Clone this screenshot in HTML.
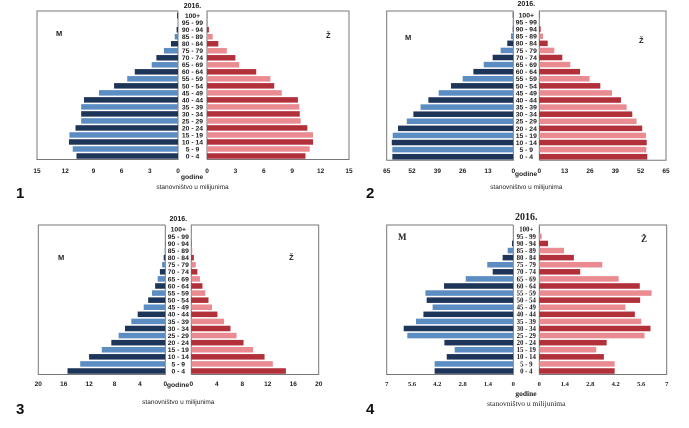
<!DOCTYPE html>
<html><head><meta charset="utf-8"><style>
html,body{margin:0;padding:0;background:#fff;width:689px;height:428px;overflow:hidden}
svg{display:block}
</style></head><body>
<svg id="svg" width="689" height="428" xmlns="http://www.w3.org/2000/svg" font-family="Liberation Sans, sans-serif"></svg>
<script>
const ageGroups = ["0 - 4","5 - 9","10 - 14","15 - 19","20 - 24","25 - 29","30 - 34","35 - 39","40 - 44","45 - 49","50 - 54","55 - 59","60 - 64","65 - 69","70 - 74","75 - 79","80 - 84","85 - 89","90 - 94","95 - 99","100+"];
const p1Male   = [10.8,11.2,11.6,11.55,10.9,10.3,10.3,10.3,10.0,8.4,6.8,5.4,4.6,2.8,2.3,1.5,0.75,0.35,0.15,0.05,0.1];
const p1Female = [10.4,10.85,11.2,11.2,10.6,9.9,9.8,9.75,9.6,7.9,7.1,6.7,5.2,3.4,3.0,2.1,1.2,0.6,0.2,0.1,0.05];
const p1Ticks  = ["0","3","6","9","12","15"];
const p2Male   = [62.1,62.1,62.4,61.9,59.2,54.7,51.3,47.6,43.6,38.3,32,26,20.5,15.2,10.6,6.5,3.1,1.2,0.3,0.2,0.3];
const p2Female = [55.4,54.9,55.1,54.7,52.8,49.9,47.7,44.8,41.9,37.3,31.3,25.8,20.9,15.9,11.8,7.7,4.3,1.9,0.7,0.2,0.2];
const p2Ticks  = ["0","13","26","39","52","65"];
const p3Male   = [15.4,13.4,12.0,10.0,8.5,7.35,6.35,5.35,4.35,3.4,2.7,2.1,1.6,1.2,0.85,0.5,0.25,0.1,0.05,0,0];
const p3Female = [14.85,12.8,11.5,9.7,8.2,7.1,6.15,5.15,4.1,3.25,2.7,2.2,1.75,1.35,0.95,0.7,0.4,0.15,0.05,0.02,0];
const p3Ticks  = ["0","4","8","12","16","20"];
const p4Male   = [4.35,4.35,3.68,3.24,3.81,5.86,6.06,5.38,4.97,4.46,4.79,4.86,3.83,2.63,1.14,1.44,0.59,0.31,0.07,0,0];
const p4Female = [4.14,4.14,3.55,3.13,3.7,5.78,6.11,5.6,5.25,4.73,5.54,6.17,5.52,4.36,2.25,3.46,1.9,1.36,0.48,0.13,0.02];
const p4Ticks  = ["0","1.4","2.8","4.2","5.6","7"];

const NS="http://www.w3.org/2000/svg";
const svg=document.getElementById('svg');
function mk(tag,attrs,parent){const e=document.createElementNS(NS,tag);for(const k in attrs)e.setAttribute(k,attrs[k]);(parent||svg).appendChild(e);return e;}

function drawPanel(id,male,female,ticks,L){
  const g=mk('g',{});
  
  
  const max=parseFloat(ticks[ticks.length-1]);
  const xl=v=>L.lz-(L.lz-L.l0)*v/max;
  const xr=v=>L.rz+(L.r1-L.rz)*v/max;
  const step=(L.y0-L.y20)/20;
  const yc=i=>L.y0-i*step;
  const bh=step*0.78;
  const bottom=L.y0+step/2;
  const ff=L.serif?'Liberation Serif, serif':'Liberation Sans, sans-serif';
  g.setAttribute('font-family',ff);
  const b1=mk('path',{d:`M${L.lz},${L.top}H${L.l0}V${bottom}H${L.lz}V${L.top}`,fill:'none',stroke:'#777','stroke-width':1},g);
  
  
  const b2=mk('path',{d:`M${L.rz},${bottom}V${L.top}H${L.r1}V${bottom}H${L.rz}`,fill:'none',stroke:'#777','stroke-width':1},g);
  
  
  for(let i=0;i<ageGroups.length;i++){
    const dark=i%2===0;
    const m=mk('rect',{x:xl(male[i]),y:yc(i)-bh/2,width:L.lz-xl(male[i]),height:bh,fill:dark?'#1d3559':'#5b8cc2'},g);
    
    
    const f=mk('rect',{x:L.rz,y:yc(i)-bh/2,width:xr(female[i])-L.rz,height:bh,fill:dark?'#b2303a':'#ea8b92'},g);
    
    
    const t=mk('text',{x:(L.lz+L.rz)/2,y:yc(i)+2.4,'text-anchor':'middle','font-size':6.8,'font-weight':'bold',fill:'#222'},g);
    t.textContent=ageGroups[i];
    
    
  }
  for(let k=0;k<ticks.length;k++){
    const v=parseFloat(ticks[k]);
    const a=mk('text',{x:xl(v),y:L.ty,'text-anchor':'middle','font-size':6.5,'font-weight':'bold',fill:'#222'},g);
    a.textContent=ticks[k];
    
    
    const b=mk('text',{x:xr(v),y:L.ty,'text-anchor':'middle','font-size':6.5,'font-weight':'bold',fill:'#222'},g);
    b.textContent=ticks[k];
    
    
  }
  const tt=mk('text',{x:(L.lz+L.rz)/2,y:L.titleY,'text-anchor':'middle','font-size':L.serif?10:7,'font-weight':'bold',fill:'#222'},g);
  tt.textContent='2016.';
  
  
  const gd=mk('text',{x:L.gx,y:L.gy,'text-anchor':'middle','font-size':L.serif?7.5:6.8,'font-weight':'bold',fill:'#222'},g);
  gd.textContent='godine';
  
  
  const st=mk('text',{x:(L.lz+L.rz)/2,y:L.sy,'text-anchor':'middle','font-size':L.serif?7.5:6.5,fill:'#222'},g);
  st.textContent='stanovništvo u milijunima';
  
  
  const mm=mk('text',{x:L.mx,y:L.my,'font-size':L.serif?9:7.5,'font-weight':'bold',fill:'#222'},g);
  mm.textContent='M';
  
  
  const zz=mk('text',{x:L.zx,y:L.zy,'font-size':L.serif?9:7.5,'font-weight':'bold',fill:'#222'},g);
  zz.textContent='Ž';
  
  
  const n=mk('text',{x:L.nx,y:L.ny,'font-size':15,'font-weight':'bold',fill:'#111','font-family':'Liberation Sans, sans-serif'},g);
  n.textContent=String(id);
  
  
}

drawPanel(1,p1Male,p1Female,p1Ticks,{l0:37,lz:178,rz:207,r1:349,top:11,y0:156,y20:15.7,ty:173,titleY:8,gx:192,gy:179,sy:189,mx:56,my:36,zx:326,zy:38,nx:16,ny:198});
drawPanel(2,p2Male,p2Female,p2Ticks,{l0:386.7,lz:513.3,rz:539.3,r1:666,top:11,y0:156.7,y20:15,ty:173,titleY:6,gx:526,gy:176,sy:189,mx:405,my:40,zx:639,zy:43,nx:366,ny:198});
drawPanel(3,p3Male,p3Female,p3Ticks,{l0:38.3,lz:165.3,rz:191.3,r1:318.7,top:225,y0:371,y20:229.3,ty:386,titleY:221,gx:178,gy:387,sy:404,mx:58,my:260,zx:289,zy:260,nx:16,ny:414});
drawPanel(4,p4Male,p4Female,p4Ticks,{serif:true,l0:386.7,lz:513.3,rz:539.3,r1:666.7,top:225,y0:371,y20:229.3,ty:386,titleY:220,gx:526,gy:396,sy:406,mx:398,my:240,zx:641,zy:242,nx:366,ny:414});
</script>
</body></html>
